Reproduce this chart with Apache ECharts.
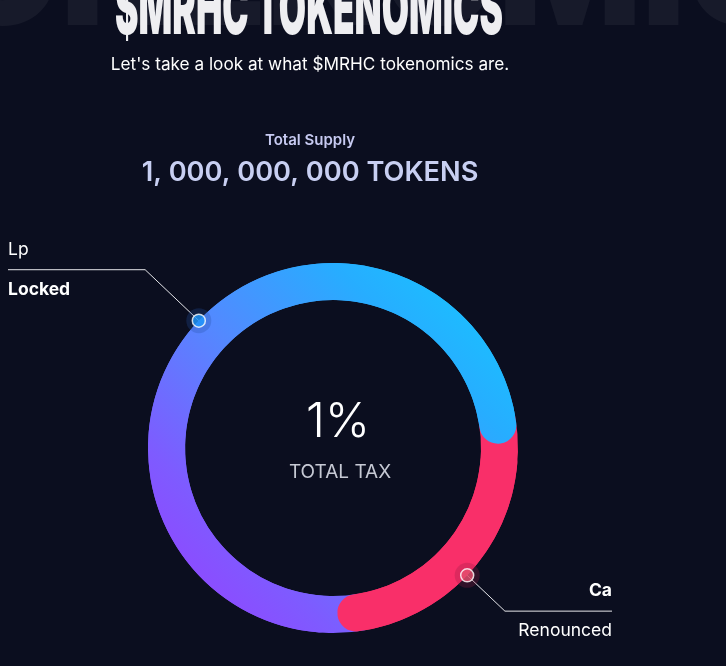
<!DOCTYPE html>
<html>
<head>
<meta charset="utf-8">
<script src="https://cdn.jsdelivr.net/npm/echarts@6/dist/echarts.min.js"></script>
<style>
html,body{margin:0;padding:0;background:#0b0e1f;}
#chart{width:726px;height:666px;}
</style>
</head>
<body>
<div id="chart"></div>
<script>
// ---- data ----
const segmentNames = ['Ca Renounced', 'Lp Locked'];
const segmentValues = [25, 75];
const labelTop = ['Ca', 'Lp'];
const labelBottom = ['Renounced', 'Locked'];
const headline = '$MRHC TOKENOMICS';
const subtitle = "Let's take a look at what $MRHC tokenomics are.";
const supplyLabel = 'Total Supply';
const supplyValue = '1, 000, 000, 000 TOKENS';
const taxValue = '1%';
const taxLabel = 'TOTAL TAX';
const watermark = 'TOKENOMICS';

// ---- layout / style ----
const CENTER = [333, 448];
const R_IN = 148, R_OUT = 185;
const START = 1.5;        // echarts degrees (counter-clockwise from 3 o'clock)
const UNDER_SHIFT = 8.5;  // under-ring rotated back so the rounded caps sit on the neighbour colour
const PINK = '#f92f69';
const LINE_LEN = [52, 74];

function blueGrad() {
  return new echarts.graphic.LinearGradient(1, 0, 0, 1, [
    { offset: 0, color: '#12cdff' },
    { offset: 0.25, color: '#27adff' },
    { offset: 0.5, color: '#5488ff' },
    { offset: 0.75, color: '#7e5bff' },
    { offset: 1, color: '#9b3bff' }
  ]);
}
const segColors = [PINK, blueGrad()];
const segColorsUnder = [PINK, blueGrad()];
const dotColors = ['#e9506f', '#1f98ff'];
const haloColors = ['rgba(150,30,70,0.35)', 'rgba(35,80,160,0.35)'];

const total = segmentValues.reduce((a, b) => a + b, 0);
const mids = [];
let acc = 0;
segmentValues.forEach(v => { mids.push(acc + v / 2); acc += v; });

const chart = echarts.init(document.getElementById('chart'), null, { renderer: 'canvas' });

const option = {
  backgroundColor: '#0b0e1f',
  animation: false,
  polar: { center: CENTER, radius: R_OUT },
  angleAxis: { type: 'value', min: 0, max: total, startAngle: START, clockwise: true, show: false },
  radiusAxis: { type: 'value', min: 0, max: 1, show: false },
  graphic: [
    { type: 'text', x: 372, y: -20, silent: true, z: 0,
      style: { text: watermark, font: '900 150px Inter', fill: 'rgba(255,255,255,0.05)', align: 'center', verticalAlign: 'middle' } },
    { type: 'text', x: 309, y: 12, scaleX: 0.588, scaleY: 1.22, silent: true, z: 1,
      style: { text: headline, font: '900 60px Inter', fill: '#eeeef1', align: 'center', verticalAlign: 'middle' } },
    { type: 'text', x: 310, y: 65, silent: true,
      style: { text: subtitle, font: '17.2px Inter', fill: '#ffffff', align: 'center', verticalAlign: 'middle' } },
    { type: 'text', x: 310, y: 140, silent: true,
      style: { text: supplyLabel, font: '600 15px Inter', fill: '#c7caf1', align: 'center', verticalAlign: 'middle' } },
    { type: 'text', x: 310, y: 173, silent: true,
      style: { text: supplyValue, font: '600 27.2px Inter', fill: '#c8cff2', align: 'center', verticalAlign: 'middle' } },
    { type: 'text', x: 338, y: 423, silent: true,
      style: { text: taxValue, font: '300 48px Inter', fill: '#ffffff', align: 'center', verticalAlign: 'middle' } },
    { type: 'text', x: 340, y: 472, silent: true,
      style: { text: taxLabel, font: '19px Inter', fill: '#c6c9d4', align: 'center', verticalAlign: 'middle' } }
  ],
  series: [
    {
      type: 'pie', name: 'under', silent: true,
      center: CENTER, radius: [R_IN, R_OUT],
      startAngle: START + UNDER_SHIFT, clockwise: true,
      label: { show: false }, labelLine: { show: false },
      emphasis: { disabled: true },
      data: segmentValues.map((v, i) => ({ name: segmentNames[i], value: v, itemStyle: { color: segColorsUnder[i] } }))
    },
    {
      type: 'pie', name: 'tokenomics', silent: true,
      center: CENTER, radius: [R_IN, R_OUT],
      startAngle: START, clockwise: true,
      avoidLabelOverlap: false,
      itemStyle: { borderRadius: (R_OUT - R_IN) / 2 },
      emphasis: { disabled: true },
      label: {
        show: true, position: 'outside',
        formatter: function (p) {
          const i = p.dataIndex;
          return i === 0
            ? '{rt|' + labelTop[i] + '}\n{rb|' + labelBottom[i] + '}'
            : '{lt|' + labelTop[i] + '}\n{lb|' + labelBottom[i] + '}';
        },
        rich: {
          lt: { fontFamily: 'Inter', fontSize: 17.5, fontWeight: 400, color: '#ffffff', lineHeight: 40 },
          lb: { fontFamily: 'Inter', fontSize: 17.5, fontWeight: 700, color: '#ffffff', lineHeight: 40 },
          rt: { fontFamily: 'Inter', fontSize: 17.5, fontWeight: 700, color: '#ffffff', lineHeight: 40, align: 'right' },
          rb: { fontFamily: 'Inter', fontSize: 17.5, fontWeight: 400, color: '#ffffff', lineHeight: 40, align: 'right' }
        }
      },
      labelLine: { show: true, length: 64, length2: 20, lineStyle: { color: '#e6e6ea', width: 1 } },
      labelLayout: function (params) {
        const pts = params.labelLinePoints;
        if (!pts) return {};
        const left = pts[2][0] < pts[0][0];
        const edgeX = left ? 8 : 612;
        pts[2][0] = edgeX;
        return { x: edgeX, y: pts[2][1], align: left ? 'left' : 'right', verticalAlign: 'middle', labelLinePoints: pts };
      },
      data: segmentValues.map((v, i) => ({
        name: segmentNames[i], value: v,
        itemStyle: { color: segColors[i] },
        labelLine: { length: LINE_LEN[i] }
      }))
    },
    {
      type: 'scatter', coordinateSystem: 'polar', silent: true, z: 5,
      symbolSize: 25,
      itemStyle: { color: p => haloColors[p.dataIndex] },
      data: mids.map(m => [1, m])
    },
    {
      type: 'scatter', coordinateSystem: 'polar', silent: true, z: 6,
      symbolSize: 13,
      itemStyle: { color: p => dotColors[p.dataIndex], borderColor: '#ffffff', borderWidth: 1.5 },
      data: mids.map(m => [1, m])
    }
  ]
};
chart.setOption(option);
</script>
</body>
</html>
